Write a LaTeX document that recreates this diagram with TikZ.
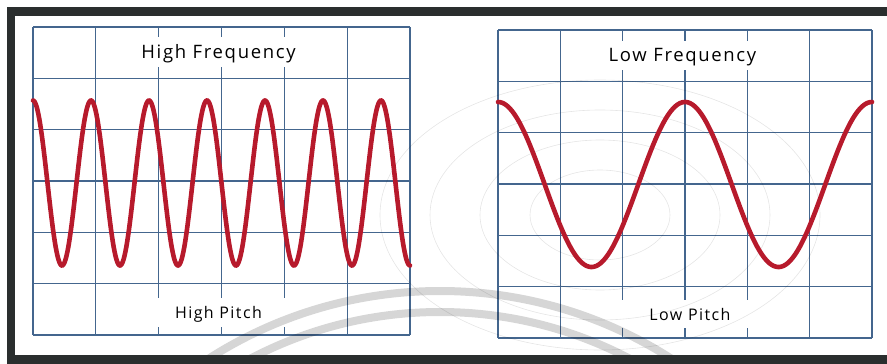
\documentclass[tikz,border=0pt]{standalone}
\usepackage{fontspec}
\setmainfont{Open Sans}[LetterSpace=9]
\definecolor{framegray}{RGB}{42,46,46}
\definecolor{gridblue}{RGB}{68,102,142}
\definecolor{wavered}{RGB}{183,26,44}
\begin{document}
\begin{tikzpicture}[x=1pt, y=-1pt,
  frame/.style={line width=8.5pt, framegray},
  gridline/.style={gridblue, line width=1.3pt},
  wave/.style={wavered, line width=4.6pt, line cap=round},
  swoosh/.style={black, opacity=0.16, line width=8pt},
  faint/.style={black, opacity=0.10, line width=0.6pt},
  lbl/.style={fill=white, inner sep=0pt, anchor=base, font=\fontsize{18.5}{20}\selectfont},
  sublbl/.style={lbl, font=\fontsize{16}{18}\selectfont}]
\useasboundingbox (0,0) rectangle (887,364);
% left panel grid
\foreach \i in {0,...,6} {
  \draw[gridline] ({33+\i*377/6},27) -- ({33+\i*377/6},335);
  \draw[gridline] (33,{27+\i*308/6}) -- (410,{27+\i*308/6});
}
% right panel grid
\foreach \i in {0,...,6} {
  \draw[gridline] ({498+\i*374/6},30) -- ({498+\i*374/6},338);
  \draw[gridline] (498,{30+\i*308/6}) -- (872,{30+\i*308/6});
}
% labels
\node[lbl, text height=21pt, text depth=9pt, minimum width=166pt] (highf) at (218.5,58) {High Frequency};
\node[sublbl, text height=20.3pt, text depth=8.7pt, minimum width=150pt] (highp) at (218.5,318.3) {High Pitch};
\node[lbl, text height=20.5pt, text depth=8.5pt, minimum width=160pt] (lowf) at (682.5,61.5) {Low Frequency};
\node[sublbl, text height=20pt, text depth=8pt, minimum width=150pt] (lowp) at (690,320) {Low Pitch};
% watermark behind the scan
\begin{scope}
  \clip (0,0) rectangle (887,364);
  \draw[swoosh] (440,720) circle[radius=429];
  \draw[swoosh] (440,720) circle[radius=408];
  \foreach \r/\s in {70/45, 120/75, 170/105, 220/135}
    \draw[faint] (600,215) ellipse[x radius=\r, y radius=\s];
\end{scope}
% waves
\draw[wave] plot[domain=33:410, samples=500, smooth] (\x, {183-82.5*cos((\x-33)*6.2069)});
\draw[wave] plot[domain=498:872, samples=300, smooth] (\x, {184.5-82.5*cos((\x-498)*1.92513)});
% outer frame, open on the right
\draw[frame] (887,11.5) -- (11,11.5) -- (11,359.5) -- (887,359.5);
\end{tikzpicture}
\end{document}
